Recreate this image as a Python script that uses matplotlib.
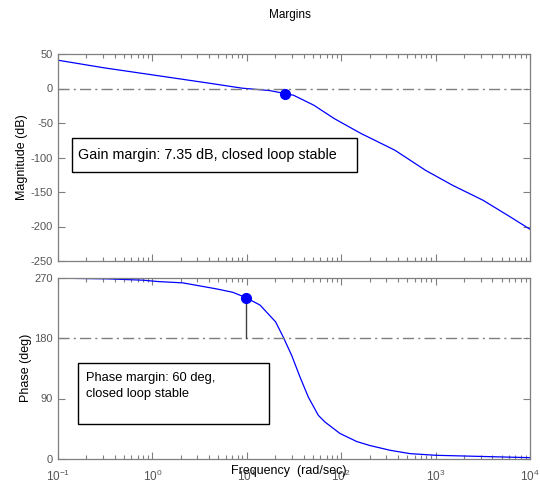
import matplotlib
matplotlib.use("Agg")
import matplotlib.pyplot as plt
from matplotlib.patches import Rectangle
from matplotlib.ticker import LogLocator, NullFormatter

plt.rcParams["font.family"] = ["Liberation Sans", "DejaVu Sans"]
plt.rcParams["mathtext.fontset"] = "custom"
plt.rcParams["mathtext.rm"] = "Liberation Sans"
plt.rcParams["axes.unicode_minus"] = False

# Bode magnitude (dB) vs frequency (rad/sec)
mag_freq = [0.1, 0.306, 1.09, 3.86, 8.9, 17.5, 25.4, 31.3, 51.4, 84.4, 163,
            209, 372, 783, 1514, 3184, 6166, 10000]
mag_db = [41, 30, 19, 8, 0.5, -3, -7.35, -9.8, -24.3, -43.6, -65.4,
          -72.6, -89.6, -118.6, -140.3, -162, -186, -204]

# Bode phase (deg) vs frequency (rad/sec)
ph_freq = [0.1, 0.33, 0.8, 1.14, 2.1, 4.8, 7.1, 9.8, 13.8, 20.2, 24.4, 29.9,
           36.6, 44.9, 57.2, 67.3, 97, 146, 202, 329, 535, 1009, 10000]
ph_deg = [269, 268, 266, 264, 262, 253, 248, 240, 229, 204, 181, 154,
          122, 92, 65, 55, 38, 26, 20, 13, 8, 5.5, 2]

gm_freq, gm_db = 25.4, -7.35     # gain margin point
pm_freq, pm_deg = 9.8, 240       # phase margin point
gm_text = "Gain margin: 7.35 dB, closed loop stable"
pm_text = "Phase margin: 60 deg,\nclosed loop stable"

mag_ticks = [50, 0, -50, -100, -150, -200, -250]
ph_ticks = [0, 90, 180, 270]

W, H = 540, 487
fig = plt.figure(figsize=(W / 100, H / 100), dpi=100)
ax1 = fig.add_axes([58 / W, 1 - 261 / H, 472 / W, 207 / H])
ax2 = fig.add_axes([58 / W, 1 - 459 / H, 472 / W, 181.5 / H])

grey = "#7f7f7f"
dashdot = (0, (8, 3, 1.5, 3))

for ax in (ax1, ax2):
    ax.set_xscale("log")
    ax.set_xlim(0.1, 1e4)
    for s in ax.spines.values():
        s.set_color(grey)
        s.set_linewidth(0.9)
    ax.xaxis.set_major_locator(LogLocator(base=10, numticks=10))
    ax.xaxis.set_minor_locator(LogLocator(base=10, subs=range(2, 10), numticks=20))
    ax.xaxis.set_minor_formatter(NullFormatter())
    ax.tick_params(which="both", direction="in", top=True, right=True,
                   colors=grey, labelcolor="#555555", labelsize=8, width=0.8)
    ax.tick_params(which="major", length=5)
    ax.tick_params(which="minor", length=3)
    ax.tick_params(axis="x", pad=7, labelsize=8.5)

# magnitude panel
ax1.plot(mag_freq, mag_db, color="#0000ff", lw=0.9)
ax1.axhline(0, color=grey, lw=1, ls=dashdot)
ax1.plot([gm_freq], [gm_db], "o", color="#0000ff", ms=7)
ax1.set_ylim(-250, 50)
ax1.set_yticks(mag_ticks)
ax1.tick_params(axis="x", labelbottom=False)
ax1.set_ylabel("Magnitude (dB)", fontsize=9, labelpad=2)
ax1.add_patch(Rectangle((0.0303, 0.4306), 0.6025, 0.165, transform=ax1.transAxes,
                        facecolor="white", edgecolor="black", lw=1, zorder=4))
ax1.text(0.0417, 0.513, gm_text, transform=ax1.transAxes, fontsize=10.3,
         va="center", ha="left", zorder=5)

# phase panel
ax2.plot(ph_freq, ph_deg, color="#0000ff", lw=0.9)
ax2.axhline(180, color=grey, lw=1, ls=dashdot)
ax2.plot([pm_freq, pm_freq], [180, pm_deg], color="#404040", lw=1)
ax2.plot([pm_freq], [pm_deg], "o", color="#0000ff", ms=7)
ax2.set_ylim(0, 270)
ax2.set_yticks(ph_ticks)
ax2.set_ylabel("Phase (deg)", fontsize=9, labelpad=2)
ax2.add_patch(Rectangle((0.043, 0.191), 0.4047, 0.336, transform=ax2.transAxes,
                        facecolor="white", edgecolor="black", lw=1, zorder=4))
ax2.text(0.0593, 0.40, pm_text, transform=ax2.transAxes, fontsize=9.3,
         va="center", ha="left", linespacing=1.45, zorder=5)

# x label sits over the tick labels
fig.text(289 / W, 1 - 471 / H, "Frequency  (rad/sec)", fontsize=9,
         ha="center", va="center")
fig.text(290 / W, 1 - 15 / H, "Margins", fontsize=8.5, ha="center", va="center")

fig.savefig("out.png", dpi=100)
